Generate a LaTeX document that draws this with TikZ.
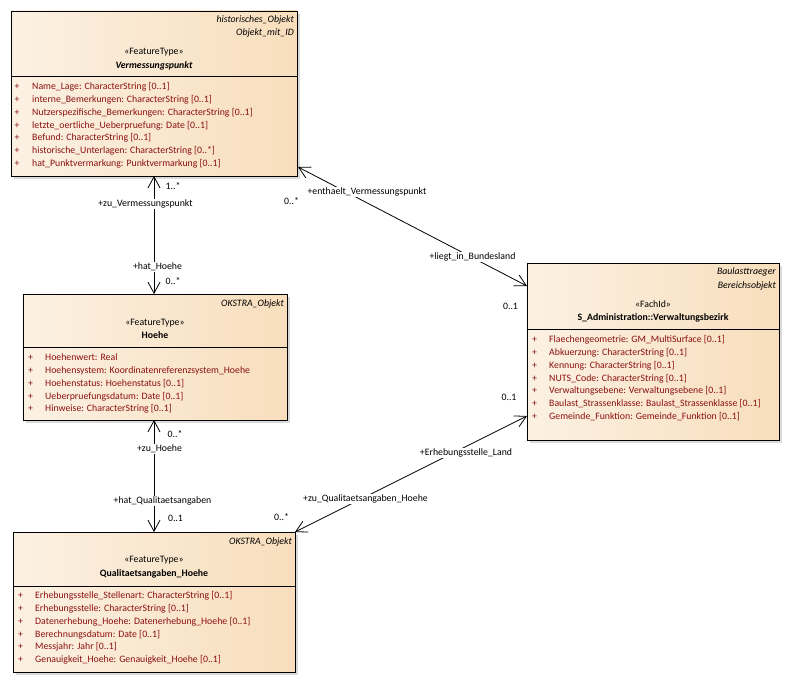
\documentclass[tikz,border=0pt]{standalone}
\usepackage{fontspec}
\setmainfont{Carlito}
\usetikzlibrary{arrows.meta,calc}
\definecolor{boxL}{HTML}{FBF1E3}
\definecolor{boxR}{HTML}{F8DEBC}
\definecolor{attrc}{HTML}{8B1010}
\definecolor{shadowc}{HTML}{DADADA}
\newcommand\umlattrs[5]{%
  \foreach \t [count=\i from 0] in {#5} {%
    \node[attrplus] (#1p\i) at (#2,{#4+12.9*\i}) {+};
    \node[attrtxt] (#1t\i) at (#3,{#4+12.9*\i}) {\t};
  }}
\begin{document}
\begin{tikzpicture}[x=1pt,y=-1pt,
  font=\fontsize{9.8}{12}\selectfont,
  umlbox/.style={draw=black, line width=0.8pt, left color=boxL, right color=boxR,
    inner sep=0pt, outer sep=0pt, rectangle},
  shadowbox/.style={fill=shadowc, draw=none},
  attrplus/.style={text=attrc, inner sep=0pt, anchor=mid},
  attrtxt/.style={text=attrc, inner sep=0pt, anchor=mid west},
  hdrR/.style={inner sep=0pt, anchor=mid east, font=\fontsize{9.8}{12}\selectfont\itshape},
  hdrC/.style={inner sep=0pt, anchor=mid},
  lbl/.style={fill=white, inner sep=1pt, anchor=mid},
  assoc/.style={line width=0.8pt, {Straight Barb[length=11pt,width=12pt]}-{Straight Barb[length=11pt,width=12pt]}},
]
\useasboundingbox (0,0) rectangle (790,682);

% ---------- Box 1: Vermessungspunkt ----------
\fill[shadowbox] (14,14) rectangle (300,179);
\node[umlbox, minimum width=286pt, minimum height=165pt] (vp) at (154,93.5) {};
\draw[line width=0.8pt] (vp.west |- 0,76) -- (vp.east |- 0,76);
\node[hdrR] (vph1) at (294,20) {historisches\_Objekt};
\node[hdrR] (vph2) at (294,33) {Objekt\_mit\_ID};
\node[hdrC] (vpst) at (154,52) {«FeatureType»};
\node[hdrC, font=\fontsize{9.8}{12}\selectfont\bfseries\itshape] (vpn) at (154,66) {Vermessungspunkt};
\umlattrs{vp}{17}{32}{87}{Name\_Lage: CharacterString [0..1],
 interne\_Bemerkungen: CharacterString [0..1],
 Nutzerspezifische\_Bemerkungen: CharacterString [0..1],
 letzte\_oertliche\_Ueberpruefung: Date [0..1],
 Befund: CharacterString [0..1],
 historische\_Unterlagen: CharacterString [0..*],
 hat\_Punktvermarkung: Punktvermarkung [0..1]}

% ---------- Box 2: Hoehe ----------
\fill[shadowbox] (26,297) rectangle (290,423);
\node[umlbox, minimum width=264pt, minimum height=126pt] (ho) at (155,357) {};
\draw[line width=0.8pt] (ho.west |- 0,347) -- (ho.east |- 0,347);
\node[hdrR] (hoh1) at (284,304) {OKSTRA\_Objekt};
\node[hdrC] (host) at (155,323) {«FeatureType»};
\node[hdrC, font=\fontsize{9.8}{12}\selectfont\bfseries] (hon) at (155,336) {Hoehe};
\umlattrs{ho}{30.5}{45}{358}{Hoehenwert: Real,
 Hoehensystem: Koordinatenreferenzsystem\_Hoehe,
 Hoehenstatus: Hoehenstatus [0..1],
 Ueberpruefungsdatum: Date [0..1],
 Hinweise: CharacterString [0..1]}

% ---------- Box 3: Qualitaetsangaben_Hoehe ----------
\fill[shadowbox] (16,535) rectangle (298,675);
\node[umlbox, minimum width=282pt, minimum height=140pt] (qa) at (154,602) {};
\draw[line width=0.8pt] (qa.west |- 0,586) -- (qa.east |- 0,586);
\node[hdrR] (qah1) at (292,542) {OKSTRA\_Objekt};
\node[hdrC] (qast) at (154,560) {«FeatureType»};
\node[hdrC, font=\fontsize{9.8}{12}\selectfont\bfseries] (qan) at (154,574) {Qualitaetsangaben\_Hoehe};
\umlattrs{qa}{20.5}{35}{596}{Erhebungsstelle\_Stellenart: CharacterString [0..1],
 Erhebungsstelle: CharacterString [0..1],
 Datenerhebung\_Hoehe: Datenerhebung\_Hoehe [0..1],
 Berechnungsdatum: Date [0..1],
 Messjahr: Jahr [0..1],
 Genauigkeit\_Hoehe: Genauigkeit\_Hoehe [0..1]}

% ---------- Box 4: Verwaltungsbezirk ----------
\fill[shadowbox] (530,266) rectangle (782,443);
\node[umlbox, minimum width=252pt, minimum height=177pt] (vb) at (653,351.5) {};
\draw[line width=0.8pt] (vb.west |- 0,329) -- (vb.east |- 0,329);
\node[hdrR] (vbh1) at (776,272) {Baulasttraeger};
\node[hdrR] (vbh2) at (776,286) {Bereichsobjekt};
\node[hdrC] (vbst) at (653,305) {«FachId»};
\node[hdrC, font=\fontsize{9.8}{12}\selectfont\bfseries] (vbn) at (653,318) {S\_Administration::Verwaltungsbezirk};
\umlattrs{vb}{534.5}{549}{340}{Flaechengeometrie: GM\_MultiSurface [0..1],
 Abkuerzung: CharacterString [0..1],
 Kennung: CharacterString [0..1],
 NUTS\_Code: CharacterString [0..1],
 Verwaltungsebene: Verwaltungsebene [0..1],
 Baulast\_Strassenklasse: Baulast\_Strassenklasse [0..1],
 Gemeinde\_Funktion: Gemeinde\_Funktion [0..1]}

% ---------- Connectors ----------
\coordinate (c1a) at (154,176);
\coordinate (c1b) at (154,294);
\draw[assoc] (c1a) -- (c1b);
\coordinate (c2a) at (154,420);
\coordinate (c2b) at (154,532);
\draw[assoc] (c2a) -- (c2b);
\coordinate (c3a) at (298,167);
\coordinate (c3b) at (527,286);
\draw[assoc] (c3a) -- (c3b);
\coordinate (c4a) at (295,532);
\coordinate (c4b) at (527,416);
\draw[assoc] (c4a) -- (c4b);

% ---------- Connector labels ----------
\node[lbl] (l1) at (173,187) {1..*};
\node[lbl] (l2) at (145.5,204) {+zu\_Vermessungspunkt};
\node[lbl] (l3) at (157.5,267) {+hat\_Hoehe};
\node[lbl] (l4) at (173,282) {0..*};
\node[lbl] (l5) at (175,435) {0..*};
\node[lbl] (l6) at (159.5,449) {+zu\_Hoehe};
\node[lbl] (l7) at (162.5,501) {+hat\_Qualitaetsangaben};
\node[lbl] (l8) at (175.5,519) {0..1};
\node[lbl] (l9) at (367,192) {+enthaelt\_Vermessungspunkt};
\node[lbl] (l10) at (291.5,202) {0..*};
\node[lbl] (l11) at (472.5,257) {+liegt\_in\_Bundesland};
\node[lbl] (l12) at (510.5,307) {0..1};
\node[lbl] (l13) at (509,398) {0..1};
\node[lbl] (l14) at (466,453) {+Erhebungsstelle\_Land};
\node[lbl] (l15) at (365.5,499) {+zu\_Qualitaetsangaben\_Hoehe};
\node[lbl] (l16) at (281.5,518) {0..*};
\end{tikzpicture}
\end{document}
